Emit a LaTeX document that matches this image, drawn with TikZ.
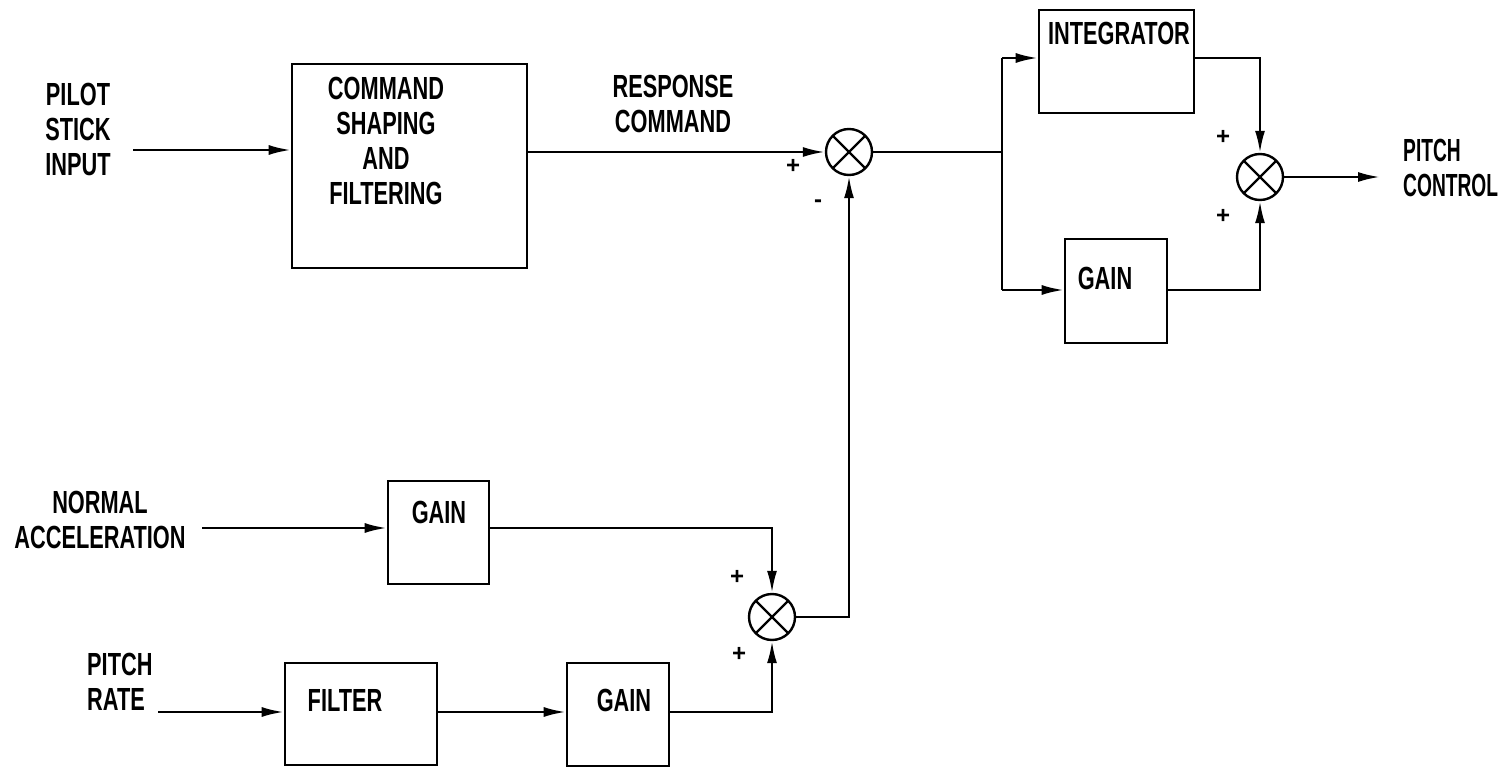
\documentclass[tikz,border=0pt]{standalone}
\usepackage{fontspec}
\usetikzlibrary{arrows.meta}
\newfontfamily\lab[FakeStretch=0.68]{Liberation Sans Bold}
\newfontfamily\labn[FakeStretch=0.6]{Liberation Sans Bold}
\newfontfamily\signfont{Liberation Sans Bold}
\begin{document}
\begin{tikzpicture}[x=1pt,y=-1pt,
  blk/.style={draw, rectangle, line width=2.6pt, inner sep=0pt},
  sumj/.style={draw, circle, line width=2.4pt, minimum size=46pt, inner sep=0pt,
    path picture={\draw[line width=2.4pt] (path picture bounding box.north west) -- (path picture bounding box.south east)
      (path picture bounding box.north east) -- (path picture bounding box.south west);}},
  lbl/.style={font=\lab\fontsize{32}{35}\selectfont, inner sep=0pt},
  sgn/.style={font=\signfont\fontsize{24}{24}\selectfont, inner sep=0pt},
  wire/.style={line width=2.4pt},
  arr/.style={line width=2.4pt, -{Latex[length=22pt,width=10pt]}}]
\fill[white] (0,0) rectangle (1510,770);
\useasboundingbox (0,0) rectangle (1510,770);

% blocks
\node[blk, minimum width=235pt, minimum height=204pt] (cmd) at (409.5,166) {};
\node[blk, minimum width=155pt, minimum height=103pt] (int) at (1116.5,61.5) {};
\node[blk, minimum width=102pt, minimum height=104pt] (gtop) at (1116,291) {};
\node[blk, minimum width=101pt, minimum height=103pt] (gn) at (438.5,532.5) {};
\node[blk, minimum width=152pt, minimum height=102pt] (filt) at (361,714) {};
\node[blk, minimum width=102pt, minimum height=103pt] (gb) at (618,714.5) {};

% summing junctions
\node[sumj] (s1) at (849,152) {};
\node[sumj] (s2) at (1260,177) {};
\node[sumj] (s3) at (772,617) {};

% texts
\node[lbl, align=center] (tpilot) at (78,129) {\fontsize{32}{36}\selectfont PILOT\\STICK\\INPUT};
\node[lbl, align=center] (tcmd) at (386,140.5) {COMMAND\\SHAPING\\AND\\FILTERING};
\node[lbl, align=center] (tresp) at (673,104) {RESPONSE\\COMMAND};
\node[lbl] (tint) at (1119,33) {INTEGRATOR};
\node[lbl] (tgtop) at (1105,278) {GAIN};
\node[lbl, font=\labn\fontsize{32}{35}\selectfont, align=left, anchor=west] (tpc) at (1403,167.5) {PITCH\\CONTROL};
\node[lbl, align=center] (tnorm) at (100,520) {NORMAL\\ACCELERATION};
\node[lbl] (tgn) at (439,512) {GAIN};
\node[lbl, align=left, anchor=west] (tpr) at (87,681.5) {PITCH\\RATE};
\node[lbl] (tfilt) at (345,700) {FILTER};
\node[lbl] (tgb) at (624,700) {GAIN};

% signs
\node[sgn] (p1) at (793,166) {+};
\node[sgn] (m1) at (818,204) {-};
\node[sgn] (p2) at (1223,137) {+};
\node[sgn] (p3) at (1223,216) {+};
\node[sgn] (p4) at (737,577) {+};
\node[sgn] (p5) at (739,654) {+};

% coordinates
\coordinate (pin) at (133,150);
\coordinate (br) at (1002,152);
\coordinate (bt) at (1002,58);
\coordinate (bb) at (1002,290);
\coordinate (out) at (1380,177);
\coordinate (nin) at (202,528);
\coordinate (rin) at (158,712);

% connectors
\draw[arr] (pin) -- (pin -| cmd.west);
\draw[arr] (cmd.east |- s1) -- (s1.west);
\draw[wire] (s1.east) -- (br);
\draw[wire] (bt) -- (bb);
\draw[arr] (bt) -- (bt -| int.west);
\draw[arr] (bb) -- (bb -| gtop.west);
\draw[arr] (bt -| int.east) -| (s2.north);
\draw[arr] (bb -| gtop.east) -| (s2.south);
\draw[arr] (s2.east) -- (out);

\draw[arr] (nin) -- (nin -| gn.west);
\draw[arr] (nin -| gn.east) -| (s3.north);
\draw[arr] (rin) -- (rin -| filt.west);
\draw[arr] (rin -| filt.east) -- (rin -| gb.west);
\draw[arr] (rin -| gb.east) -| (s3.south);
\draw[arr] (s3.east) -| (s1.south);
\end{tikzpicture}
\end{document}
